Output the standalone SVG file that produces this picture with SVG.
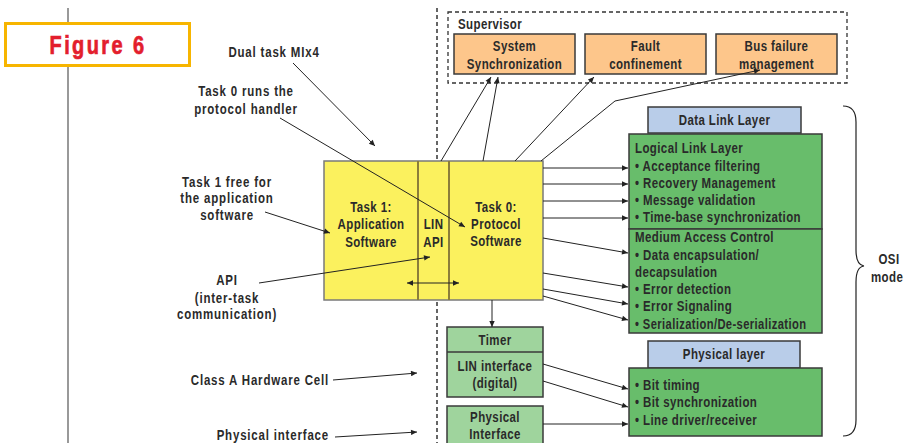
<svg xmlns="http://www.w3.org/2000/svg" width="904" height="443" viewBox="0 0 904 443">
<style>
.t{font-family:"Liberation Sans",Arial,sans-serif;font-weight:bold;font-size:14px;fill:#2a2a2a;letter-spacing:0.5px}
.a{letter-spacing:1px}
.c{text-anchor:middle}
.e{text-anchor:end}
.box{stroke:#3a3a3a;stroke-width:1.5}
.or{fill:#fdc68b}
.bl{fill:#b9cde9}
.gr{fill:#68bd6b}
.lg{fill:#9fd49d}
.ye{fill:#fbf15e;stroke:#7a7a7a;stroke-width:1.5}
.dv{stroke:#8b7d3a;stroke-width:2}
.ar{stroke:#222;stroke-width:1;fill:none;marker-end:url(#ah)}
</style>
<defs>
<marker id="ah" viewBox="0 0 10 10" refX="10" refY="5" markerWidth="9" markerHeight="6" markerUnits="userSpaceOnUse" orient="auto-start-reverse"><path d="M0,0.5 L10,5 L0,9.5 z" fill="#222"/></marker>
</defs>
<rect width="904" height="443" fill="#fff"/>
<line x1="68" y1="8" x2="68" y2="443" stroke="#555" stroke-width="1.2"/>
<line x1="437" y1="8" x2="437" y2="443" stroke="#333" stroke-width="1.5" stroke-dasharray="4,3"/>
<g id="figure-label">
<rect x="5.5" y="23.5" width="184" height="42" fill="#fff" stroke="#f7b500" stroke-width="3"/>
<text transform="translate(98,54) scale(0.8,1)" text-anchor="middle" style="font-family:'Liberation Sans',Arial,sans-serif;font-weight:bold;font-size:25px;fill:#e31e2d;stroke:#e31e2d;stroke-width:0.7px;letter-spacing:3px">Figure 6</text>
</g>
<g id="supervisor">
<rect x="448" y="12" width="399" height="71" fill="none" stroke="#333" stroke-width="1.3" stroke-dasharray="4,3"/>
<text class="t" transform="translate(458,29) scale(0.82,1)">Supervisor</text>
</g>
<g id="sys-sync">
<rect class="box or" x="454" y="34" width="121" height="40"/>
<text class="t c" transform="translate(514.5,51) scale(0.82,1)">System</text>
<text class="t c" transform="translate(514.5,69) scale(0.82,1)">Synchronization</text>
</g>
<g id="fault">
<rect class="box or" x="585" y="34" width="121" height="40"/>
<text class="t c" transform="translate(645.5,51) scale(0.82,1)">Fault</text>
<text class="t c" transform="translate(645.5,69) scale(0.82,1)">confinement</text>
</g>
<g id="busfail">
<rect class="box or" x="716" y="34" width="121" height="40"/>
<text class="t c" transform="translate(776.5,51) scale(0.82,1)">Bus failure</text>
<text class="t c" transform="translate(776.5,69) scale(0.82,1)">management</text>
</g>
<g id="dll">
<rect class="box bl" x="648" y="107" width="153" height="26"/>
<text class="t c" transform="translate(724.5,125) scale(0.82,1)">Data Link Layer</text>
</g>
<g id="llc">
<rect class="box gr" x="629" y="134" width="193" height="95"/>
<text class="t" transform="translate(635,153) scale(0.82,1)">Logical Link Layer</text>
<text class="t" transform="translate(635,171) scale(0.82,1)">• Acceptance filtering</text>
<text class="t" transform="translate(635,188) scale(0.82,1)">• Recovery Management</text>
<text class="t" transform="translate(635,205) scale(0.82,1)">• Message validation</text>
<text class="t" transform="translate(635,222) scale(0.82,1)">• Time-base synchronization</text>
</g>
<g id="mac">
<rect class="box gr" x="629" y="229" width="193" height="104"/>
<text class="t" transform="translate(635,242) scale(0.82,1)">Medium Access Control</text>
<text class="t" transform="translate(635,260) scale(0.82,1)">• Data encapsulation/</text>
<text class="t" transform="translate(635,277) scale(0.82,1)">decapsulation</text>
<text class="t" transform="translate(635,294) scale(0.82,1)">• Error detection</text>
<text class="t" transform="translate(635,311) scale(0.82,1)">• Error Signaling</text>
<text class="t" transform="translate(635,329) scale(0.8,1)">• Serialization/De-serialization</text>
</g>
<g id="phys-layer">
<rect class="box bl" x="648" y="341" width="152" height="27"/>
<text class="t c" transform="translate(724,359) scale(0.82,1)">Physical layer</text>
</g>
<g id="phys">
<rect class="box gr" x="629" y="368" width="193" height="68"/>
<text class="t" transform="translate(635,390) scale(0.82,1)">• Bit timing</text>
<text class="t" transform="translate(635,407) scale(0.82,1)">• Bit synchronization</text>
<text class="t" transform="translate(635,425) scale(0.82,1)">• Line driver/receiver</text>
</g>
<g id="mlx4">
<rect class="ye" x="324" y="161" width="219" height="139"/>
<line class="dv" x1="418" y1="161" x2="418" y2="300"/>
<line class="dv" x1="449" y1="161" x2="449" y2="300"/>
<text class="t c" transform="translate(371,212) scale(0.82,1)">Task 1:</text>
<text class="t c" transform="translate(371,229) scale(0.82,1)">Application</text>
<text class="t c" transform="translate(371,247) scale(0.82,1)">Software</text>
<text class="t c" transform="translate(433.5,229) scale(0.82,1)">LIN</text>
<text class="t c" transform="translate(433.5,247) scale(0.82,1)">API</text>
<text class="t c" transform="translate(496,212) scale(0.82,1)">Task 0:</text>
<text class="t c" transform="translate(496,229) scale(0.82,1)">Protocol</text>
<text class="t c" transform="translate(496,246) scale(0.82,1)">Software</text>
</g>
<g id="timer">
<rect class="box lg" x="447" y="327" width="96" height="70"/>
<line x1="447" y1="352" x2="543" y2="352" stroke="#3a3a3a" stroke-width="1.5"/>
<text class="t c" transform="translate(495,345) scale(0.82,1)">Timer</text>
<text class="t c" transform="translate(495,371) scale(0.82,1)">LIN interface</text>
<text class="t c" transform="translate(495,388) scale(0.82,1)">(digital)</text>
</g>
<g id="phys-if">
<rect class="box lg" x="447" y="406" width="96" height="50"/>
<text class="t c" transform="translate(495,422) scale(0.82,1)">Physical</text>
<text class="t c" transform="translate(495,439) scale(0.82,1)">Interface</text>
</g>
<g id="annotations">
<text class="t a c" transform="translate(274,57) scale(0.82,1)">Dual task MIx4</text>
<text class="t a c" transform="translate(246,96) scale(0.82,1)">Task 0 runs the</text>
<text class="t a c" transform="translate(246,114) scale(0.82,1)">protocol handler</text>
<text class="t a c" transform="translate(227,187) scale(0.82,1)">Task 1 free for</text>
<text class="t a c" transform="translate(227,203) scale(0.82,1)">the application</text>
<text class="t a c" transform="translate(227,220) scale(0.82,1)">software</text>
<text class="t a c" transform="translate(227,285) scale(0.82,1)">API</text>
<text class="t a c" transform="translate(227,303) scale(0.82,1)">(inter-task</text>
<text class="t a c" transform="translate(227,319) scale(0.82,1)">communication)</text>
<text class="t a e" transform="translate(329,385) scale(0.82,1)">Class A Hardware Cell</text>
<text class="t a e" transform="translate(329,440) scale(0.82,1)">Physical interface</text>
</g>
<g id="osi">
<path d="M843,106 Q856,106 856,122 L856,250 Q856,265 864,266 Q856,267 856,282 L856,420 Q856,436 843,436" fill="none" stroke="#222" stroke-width="1.2"/>
<text class="t c" transform="translate(889,264) scale(0.82,1)">OSI</text>
<text class="t" transform="translate(871,282) scale(0.82,1)">mode</text>
</g>
<g id="connectors">
<line class="ar" x1="293" y1="63" x2="375" y2="146"/>
<line class="ar" x1="280" y1="118" x2="465" y2="227"/>
<line class="ar" x1="265" y1="212" x2="330" y2="233"/>
<line class="ar" x1="259" y1="283" x2="430" y2="257"/>
<line class="ar" x1="407" y1="283" x2="459" y2="283" style="marker-start:url(#ah)"/>
<line class="ar" x1="333" y1="380" x2="417" y2="373"/>
<line class="ar" x1="335" y1="437" x2="417" y2="432"/>
<line class="ar" x1="441" y1="161" x2="491" y2="77"/>
<line class="ar" x1="483" y1="161" x2="498" y2="77"/>
<line class="ar" x1="515" y1="161" x2="594" y2="77"/>
<polyline class="ar" points="541,161 615,101 760,70"/>
<line class="ar" x1="492" y1="300" x2="492" y2="327"/>
<line class="ar" x1="543" y1="168" x2="628" y2="168"/>
<line class="ar" x1="543" y1="184" x2="628" y2="184"/>
<line class="ar" x1="543" y1="201" x2="628" y2="201"/>
<line class="ar" x1="543" y1="218" x2="628" y2="218"/>
<line class="ar" x1="543" y1="238" x2="628" y2="253"/>
<line class="ar" x1="543" y1="273" x2="628" y2="287"/>
<line class="ar" x1="543" y1="289" x2="628" y2="304"/>
<line class="ar" x1="543" y1="296" x2="628" y2="320"/>
<line class="ar" x1="543" y1="364" x2="628" y2="389"/>
<line class="ar" x1="543" y1="381" x2="628" y2="407"/>
<line class="ar" x1="543" y1="424" x2="628" y2="424"/>
</g>
</svg>
